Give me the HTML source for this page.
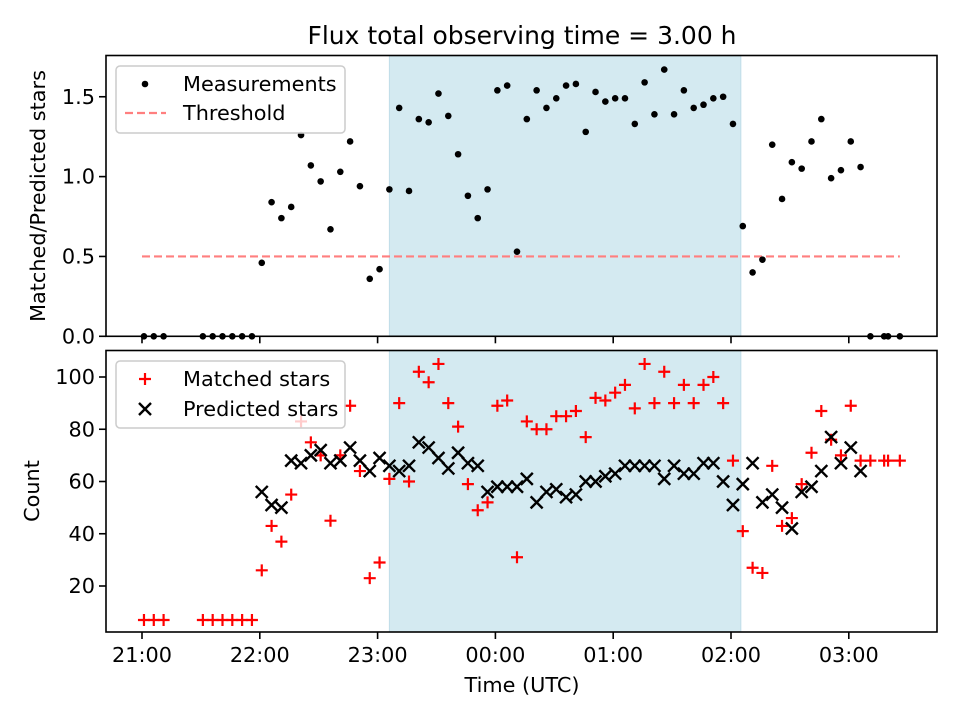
<!DOCTYPE html>
<html><head><meta charset="utf-8"><style>
html,body{margin:0;padding:0;background:#fff;}
svg text{font-family:"DejaVu Sans","Liberation Sans",sans-serif;fill:#000;}
</style></head><body>
<svg id="chart" xmlns="http://www.w3.org/2000/svg" width="960" height="720" viewBox="0 0 960 720">
<rect width="960" height="720" fill="#fff"/>
<text x="522" y="44" font-size="25" text-anchor="middle">Flux total observing time = 3.00 h</text>
<g id="topg"></g>
<g id="botg"></g>
</svg>
<script>
// minutes after 21:00 UTC
const ratioTimes=[1,6,11,31,36,41,46,51,56,61,66,71,76,81,86,91,96,101,106,111,116,121,126,131,136,141,146,151,156,161,166,171,176,181,186,191,196,201,206,211,216,221,226,231,236,241,246,251,256,261,266,271,276,281,286,291,296,301,306,311,316,321,326,331,336,341,346,351,356,361,366,371,378,380,386];
const ratioValues=[0,0,0,0,0,0,0,0,0,0.46,0.84,0.74,0.81,1.26,1.07,0.97,0.67,1.03,1.22,0.94,0.36,0.42,0.92,1.43,0.91,1.36,1.34,1.52,1.38,1.14,0.88,0.74,0.92,1.54,1.57,0.53,1.36,1.54,1.43,1.49,1.57,1.58,1.28,1.53,1.47,1.49,1.49,1.33,1.59,1.39,1.67,1.39,1.54,1.43,1.45,1.49,1.50,1.33,0.69,0.40,0.48,1.20,0.86,1.09,1.05,1.22,1.36,0.99,1.04,1.22,1.06,0,0,0,0];
const matchedValues=[7,7,7,7,7,7,7,7,7,26,43,37,55,83,75,70,45,70,89,64,23,29,61,90,60,102,98,105,90,81,59,49,52,89,91,31,83,80,80,85,85,87,77,92,91,94,97,88,105,90,102,90,97,90,97,100,90,68,41,27,25,66,43,46,59,71,87,76,70,89,68,68,68,68,68];
const predTimes=[61,66,71,76,81,86,91,96,101,106,111,116,121,126,131,136,141,146,151,156,161,166,171,176,181,186,191,196,201,206,211,216,221,226,231,236,241,246,251,256,261,266,271,276,281,286,291,296,301,306,311,316,321,326,331,336,341,346,351,356,361,366];
const predValues=[56,51,50,68,67,70,72,67,68,73,68,64,69,66,64,66,75,73,69,65,71,67,66,56,58,58,58,61,52,56,57,54,55,60,60,62,63,66,66,66,66,61,66,63,63,67,67,60,51,59,67,52,55,50,42,56,58,64,77,67,73,64];
const xTickLabels=["21:00","22:00","23:00","00:00","01:00","02:00","03:00"];
const topYTicks=[0,0.5,1.0,1.5];
const botYTicks=[20,40,60,80,100];
const shadeStart=126, shadeEnd=305, threshold=0.5, threshStart=0, threshEnd=386;

const NS="http://www.w3.org/2000/svg";
const L=106,R=937;
const T1=55.5,B1=336.3,T2=350.5,B2=632;
function X(t){return 142+t*117.8/60;}
function Y1(v){return 336.3-v*159.7;}
function Y2(v){return 638.25-v*2.6125;}
function mk(p,tag,a){const e=document.createElementNS(NS,tag);for(const k in a)e.setAttribute(k,a[k]);p.appendChild(e);return e;}
const gTop=document.getElementById('topg'),gBot=document.getElementById('botg');

function frame(g,T,B,yt,Yf,fmt,showX,name){
  const sh=mk(g,'rect',{x:X(shadeStart),y:T,width:X(shadeEnd)-X(shadeStart),height:B-T,fill:'#d4eaf1',stroke:'#bfdde8','stroke-width':1});
  
  
  yt.forEach(v=>{
    const y=Yf(v);
    const tk=mk(g,'line',{x1:L-7,x2:L,y1:y,y2:y,stroke:'#000','stroke-width':1.6});
    
    
    const tx=mk(g,'text',{x:L-11,y:y+7,'font-size':20.8,'text-anchor':'end'});
    tx.textContent=fmt(v);
    
    
  });
  xTickLabels.forEach((s,i)=>{
    const x=X(i*60);
    const tk=mk(g,'line',{x1:x,x2:x,y1:B,y2:B+7,stroke:'#000','stroke-width':1.6});
    
    
    if(showX){const tx=mk(g,'text',{x:x,y:B+30,'font-size':20.8,'text-anchor':'middle'});tx.textContent=s;
      
      }
  });
}
function border(g,T,B,name){
  const r=mk(g,'rect',{x:L,y:T,width:R-L,height:B-T,fill:'none',stroke:'#000','stroke-width':1.6});
  
  
}
function plus(g,x,y,c){return mk(g,'path',{d:`M${x-6} ${y}H${x+6}M${x} ${y-6}V${y+6}`,stroke:c,'stroke-width':2.2,fill:'none'});}
function cross(g,x,y,c){return mk(g,'path',{d:`M${x-6} ${y-6}L${x+6} ${y+6}M${x-6} ${y+6}L${x+6} ${y-6}`,stroke:c,'stroke-width':2.4,fill:'none'});}

// top
frame(gTop,T1,B1,topYTicks,Y1,v=>v.toFixed(1),false,'top');
const th=mk(gTop,'line',{x1:X(threshStart),x2:X(threshEnd),y1:Y1(threshold),y2:Y1(threshold),stroke:'#ff7f7f','stroke-width':2.2,'stroke-dasharray':'8 4'});


ratioTimes.forEach((t,i)=>{
  const c=mk(gTop,'circle',{cx:X(t),cy:Y1(ratioValues[i]),r:3.3,fill:'#000'});
  
  
});
border(gTop,T1,B1,'top');
// bottom
frame(gBot,T2,B2,botYTicks,Y2,v=>String(v),true,'bottom');
ratioTimes.forEach((t,i)=>{
  const p=plus(gBot,X(t),Y2(matchedValues[i]),'#ff0000');
  
  
});
predTimes.forEach((t,i)=>{
  const p=cross(gBot,X(t),Y2(predValues[i]),'#000');
  
  
});
border(gBot,T2,B2,'bottom');

// legends
function legend(g,y0,name){
  const r=mk(g,'rect',{x:116,y:y0,width:229,height:67,rx:4,fill:'#fff','fill-opacity':0.8,stroke:'#ccc','stroke-width':1.5});
  
  
  return r;
}
legend(gTop,66,'top-legend');
let d=mk(gTop,'circle',{cx:145,cy:84,r:3.3,fill:'#000'});


let t1=mk(gTop,'text',{x:183,y:91,'font-size':20.8});t1.textContent='Measurements';


let dl=mk(gTop,'line',{x1:125,x2:166,y1:113,y2:113,stroke:'#ff7f7f','stroke-width':2.2,'stroke-dasharray':'8 4'});


let t2=mk(gTop,'text',{x:183,y:120,'font-size':20.8});t2.textContent='Threshold';



legend(gBot,361,'bottom-legend');
let pm=plus(gBot,145,379,'#ff0000');


let t3=mk(gBot,'text',{x:183,y:386,'font-size':20.8});t3.textContent='Matched stars';


let cm=cross(gBot,145,409,'#000');


let t4=mk(gBot,'text',{x:183,y:416,'font-size':20.8});t4.textContent='Predicted stars';



// axis labels
let yl1=mk(gTop,'text',{x:0,y:0,'font-size':20.8,'text-anchor':'middle',transform:'translate(45,196) rotate(-90)'});
yl1.textContent='Matched/Predicted stars';


let yl2=mk(gBot,'text',{x:0,y:0,'font-size':20.8,'text-anchor':'middle',transform:'translate(39,491) rotate(-90)'});
yl2.textContent='Count';


let xl=mk(gBot,'text',{x:522,y:692,'font-size':20.8,'text-anchor':'middle'});
xl.textContent='Time (UTC)';


</script>
</body></html>
